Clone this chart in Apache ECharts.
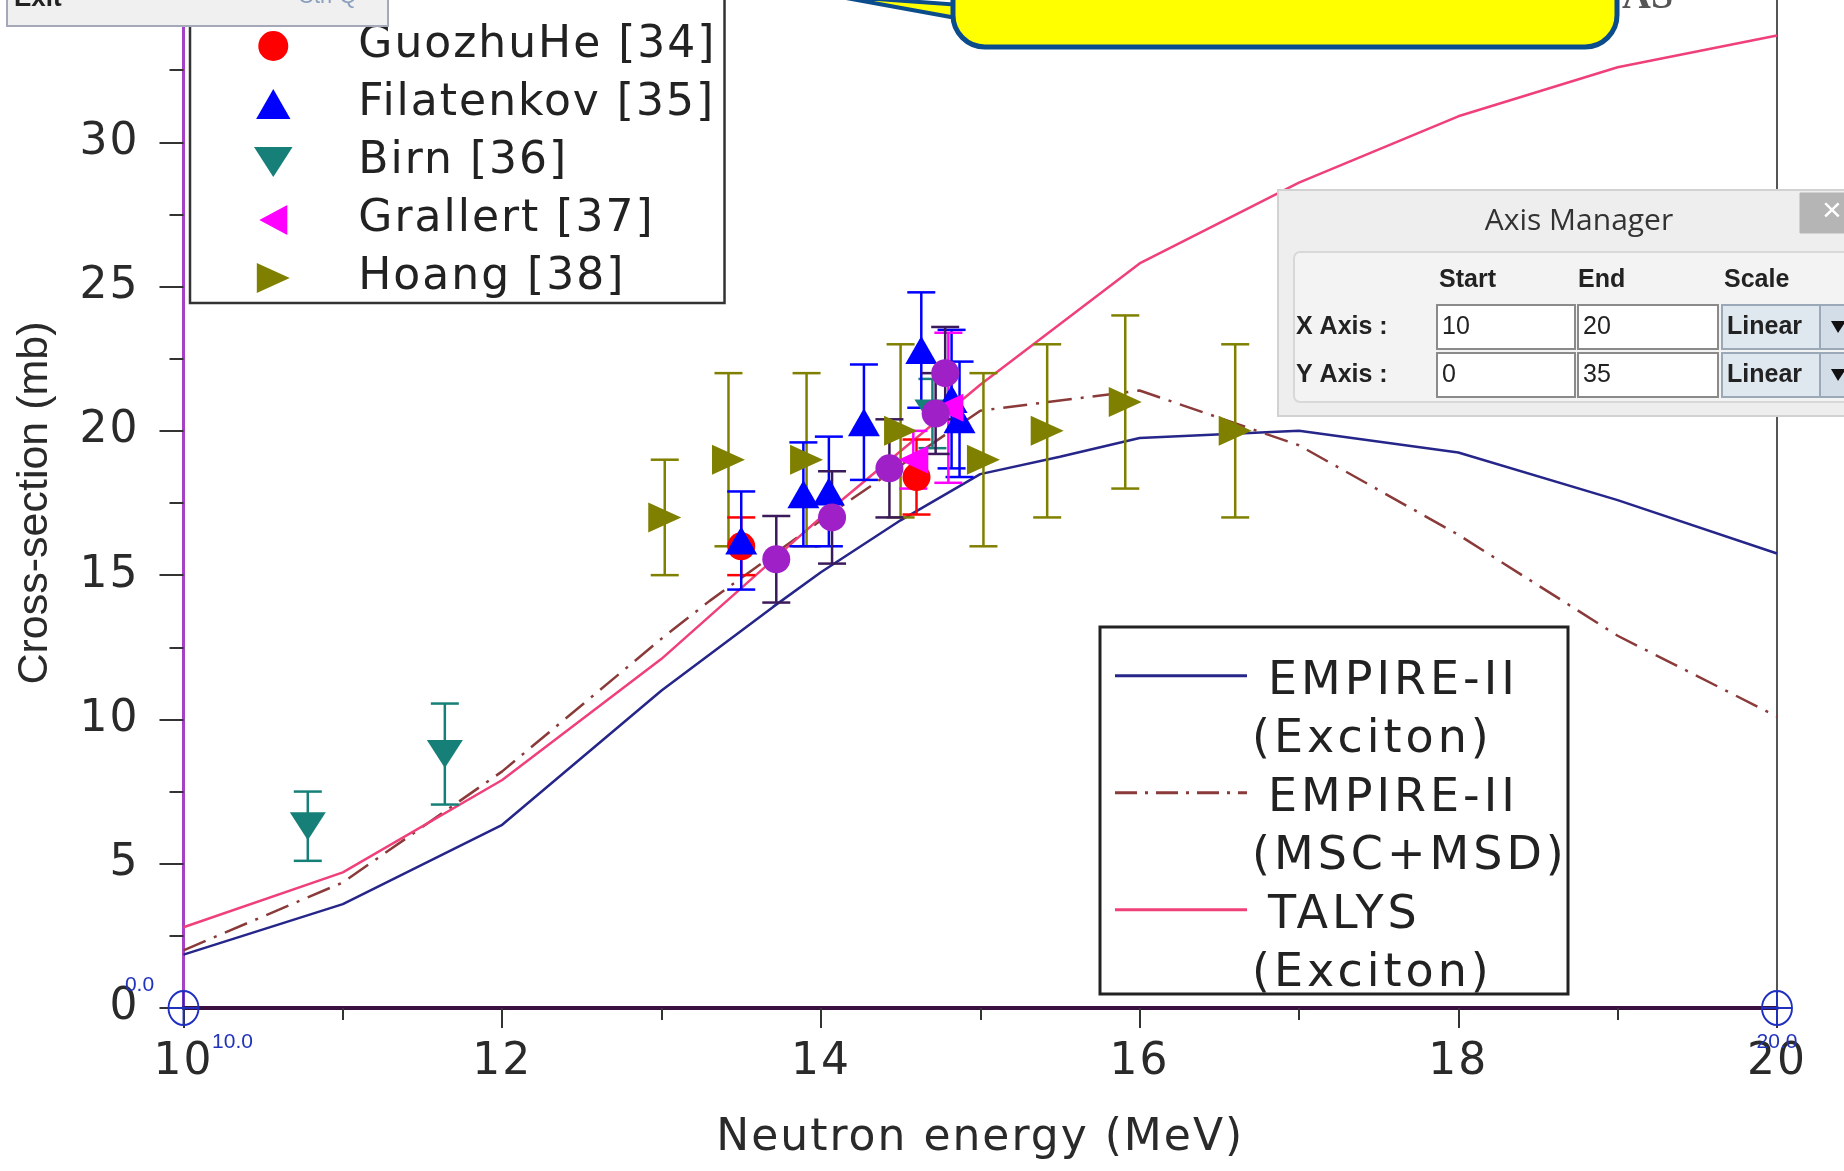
<!DOCTYPE html>
<html><head><meta charset="utf-8">
<script src="https://cdn.jsdelivr.net/npm/echarts@6/dist/echarts.min.js"></script>
<style>html,body{margin:0;padding:0;background:#fff;}#c{width:1844px;height:1171px;}</style>
</head><body><div id="c"></div>
<script>
// ---------- data ----------
const xTickValues = [10, 12, 14, 16, 18, 20];
const yTickValues = [0, 5, 10, 15, 20, 25, 30, 35];

const empExcX = [10, 11, 12, 13, 13.7, 14, 14.5, 15, 15.5, 16, 17, 18, 19, 20];
const empExcY = [1.85, 3.6, 6.35, 11.0, 13.9, 15.1, 16.9, 18.5, 19.1, 19.75, 20.0, 19.25, 17.6, 15.75];
const empMscX = [10, 11, 12, 13, 13.3, 14, 15, 16, 17, 18, 19, 20];
const empMscY = [2.0, 4.35, 8.2, 12.8, 14.1, 16.9, 20.7, 21.4, 19.5, 16.4, 12.9, 10.1];
const talysX = [10, 11, 12, 13, 14, 15, 16, 17, 18, 19, 20];
const talysY = [2.8, 4.7, 7.9, 12.1, 17.0, 21.6, 25.8, 28.6, 30.9, 32.6, 33.7];

const presentX = [13.72, 14.07, 14.43, 14.72, 14.78];
const presentY = [15.55, 17.0, 18.7, 20.6, 22.0];
const presentErr = [1.5, 1.6, 1.7, 1.4, 1.6];

const guozhuX = [13.5, 14.6];
const guozhuY = [16.0, 18.4];
const guozhuErr = [1.0, 1.3];

const filatX = [13.5, 13.89, 14.05, 14.27, 14.63, 14.82, 14.87];
const filatY = [16.2, 17.8, 17.9, 20.3, 22.8, 21.1, 20.4];
const filatErr = [1.7, 1.8, 1.9, 2.0, 2.0, 2.4, 2.0];

const birnX = [10.78, 11.64, 14.7];
const birnY = [6.3, 8.8, 20.6];
const birnErr = [1.2, 1.75, 1.2];

const grallX = [14.58, 14.8];
const grallY = [19.0, 20.8];
const grallErr = [1.0, 2.6];

const hoangX = [13.02, 13.42, 13.91, 14.5, 15.02, 15.42, 15.91, 16.6];
const hoangY = [17.0, 19.0, 19.0, 20.0, 19.0, 20.0, 21.0, 20.0];
const hoangErr = [2.0, 3.0, 3.0, 3.0, 3.0, 3.0, 3.0, 3.0];

const legendTopNames = ['Present work', 'GuozhuHe [34]', 'Filatenkov [35]', 'Birn [36]', 'Grallert [37]', 'Hoang [38]'];
const legendLineNames = ['EMPIRE-II (Exciton)', 'EMPIRE-II (MSC+MSD)', 'TALYS (Exciton)'];

// ---------- tracking (letter spacing) for the widely spaced plot lettering ----------
(function () {
  const proto = CanvasRenderingContext2D.prototype;
  const d = Object.getOwnPropertyDescriptor(proto, 'font');
  if (!d || !('letterSpacing' in proto)) return;
  Object.defineProperty(proto, 'font', {
    configurable: true, enumerable: d.enumerable,
    get: function () { return d.get.call(this); },
    set: function (v) {
      d.set.call(this, v);
      let sp = '0px';
      const m = /(\d+(?:\.\d+)?)px\s+["']?DejaVu Sans["']?\s*$/.exec(String(v));
      if (m) { const s = parseFloat(m[1]); sp = s >= 46 ? '4px' : (s >= 44 ? '2px' : '0px'); }
      this.letterSpacing = sp;
    }
  });
})();

// ---------- helpers ----------
const zip = (xs, ys) => xs.map((x, i) => [x, ys[i]]);
const errData = (xs, ys, es) => xs.map((x, i) => [x, ys[i] - es[i], ys[i] + es[i]]);
function errRender(color, cap) {
  return function (params, api) {
    const x = api.value(0), lo = api.value(1), hi = api.value(2);
    const a = api.coord([x, lo]), b = api.coord([x, hi]);
    const st = { stroke: color, lineWidth: 2.5 };
    return { type: 'group', children: [
      { type: 'line', shape: { x1: a[0], y1: a[1], x2: b[0], y2: b[1] }, style: st },
      { type: 'line', shape: { x1: a[0] - cap, y1: a[1], x2: a[0] + cap, y2: a[1] }, style: st },
      { type: 'line', shape: { x1: b[0] - cap, y1: b[1], x2: b[0] + cap, y2: b[1] }, style: st }
    ]};
  };
}
function errSeries(name, xs, ys, es, color) {
  return { name: name, type: 'custom', renderItem: errRender(color, 14), data: errData(xs, ys, es),
    encode: { x: 0, y: [1, 2] }, z: 3, silent: true };
}
function scatter(name, xs, ys, color, symbol, size, rot) {
  return { name: name, type: 'scatter', data: zip(xs, ys), symbol: symbol, symbolSize: size,
    symbolRotate: rot || 0, itemStyle: { color: color, opacity: 1 }, z: 4 };
}

const FONT = 'DejaVu Sans';
const chart = echarts.init(document.getElementById('c'));

// ---------- overlay (screenshot furniture) ----------
function txt(x, y, text, size, opts) {
  opts = opts || {};
  return { type: 'text', z: opts.z || 102, style: {
    x: x, y: y, text: text, fontSize: size, fontFamily: opts.family || 'Liberation Sans',
    fontWeight: opts.weight || 'normal', fill: opts.color || '#222',
    textAlign: opts.align || 'left', align: opts.align || 'left',
    textVerticalAlign: 'middle', verticalAlign: 'middle' } };
}
function rect(x, y, w, h, fill, stroke, lw, z, r) {
  return { type: 'rect', z: z, shape: { x: x, y: y, width: w, height: h, r: r || 0 },
    style: { fill: fill, stroke: stroke, lineWidth: lw } };
}
const overlay = [
  rect(1100, 627, 468, 367, '#ffffff', '#222', 3, 3),
  rect(7, -12, 381, 38, '#f0f0f0', '#a4a8b8', 2, 100),
  txt(14, -1, 'Exit', 26, { weight: 'bold', color: '#222' }),
  txt(298, -3, 'Ctrl-Q', 22, { color: '#8aa0bc' }),
  txt(1622, -2, 'AS', 40, { family: 'Liberation Serif', weight: 'bold', color: '#555', z: 99 }),
  { type: 'polygon', z: 100, shape: { points: [[835, -4], [962, 5], [962, 19]] },
    style: { fill: '#ffff00', stroke: '#0b4c8c', lineWidth: 4 } },
  rect(953, -40, 664, 87, '#ffff00', '#0b4c8c', 5, 101, 32),
  rect(1278, 190, 600, 226, '#eeeeee', '#d2d2d2', 2, 100),
  txt(1579, 221, 'Axis Manager', 30, { align: 'center', color: '#333', family: 'Open Sans' }),
  rect(1800, 193, 60, 40, '#b5b5b5', '#b5b5b5', 1, 101),
  txt(1832, 212, '×', 34, { align: 'center', color: '#ffffff' }),
  rect(1294, 252, 600, 150, '#f3f3f3', '#d8d8d8', 2, 101, 6),
  txt(1439, 280, 'Start', 25, { weight: 'bold' }),
  txt(1578, 280, 'End', 25, { weight: 'bold' }),
  txt(1724, 280, 'Scale', 25, { weight: 'bold' }),
  txt(1296, 327, 'X Axis :', 25, { weight: 'bold' }),
  txt(1296, 375, 'Y Axis :', 25, { weight: 'bold' }),
  rect(1437, 305, 138, 44, '#ffffff', '#8a8a8a', 2, 102),
  rect(1578, 305, 140, 44, '#ffffff', '#8a8a8a', 2, 102),
  rect(1437, 353, 138, 44, '#ffffff', '#8a8a8a', 2, 102),
  rect(1578, 353, 140, 44, '#ffffff', '#8a8a8a', 2, 102),
  txt(1442, 327, '10', 25, { z: 103 }),
  txt(1583, 327, '20', 25, { z: 103 }),
  txt(1442, 375, '0', 25, { z: 103 }),
  txt(1583, 375, '35', 25, { z: 103 }),
  rect(1722, 305, 98, 44, '#dfe7ef', '#9aa8b8', 2, 102),
  rect(1722, 353, 98, 44, '#dfe7ef', '#9aa8b8', 2, 102),
  rect(1820, 305, 40, 44, '#d3dde8', '#9aa8b8', 2, 102),
  rect(1820, 353, 40, 44, '#d3dde8', '#9aa8b8', 2, 102),
  txt(1727, 327, 'Linear', 25, { weight: 'bold', z: 103 }),
  txt(1727, 375, 'Linear', 25, { weight: 'bold', z: 103 }),
  { type: 'polygon', z: 103, shape: { points: [[1831, 321], [1846, 321], [1838, 333]] }, style: { fill: '#111' } },
  { type: 'polygon', z: 103, shape: { points: [[1831, 369], [1846, 369], [1838, 381]] }, style: { fill: '#111' } }
];

// legend icons (final orientation, aspect kept)
const ICON_UP = 'path://M16,0 L32,28 L0,28 Z';
const ICON_DOWN = 'path://M0,0 L36,0 L18,28 Z';
const ICON_RIGHT = 'path://M0,0 L33,15 L0,30 Z';
const ICON_LEFT = 'path://M28,0 L28,30 L0,15 Z';
const ICON_CIRCLE = 'path://M14,0 A14,14 0 1 1 14,28 A14,14 0 1 1 14,0 Z';
const ICON_SOLID = 'path://M0,0 L132,0 L132,3 L0,3 Z';
const ICON_DASHDOT = 'path://M0,0h22v3h-22z M30,0h3v3h-3z M41,0h22v3h-22z M71,0h3v3h-3z M82,0h22v3h-22z M112,0h3v3h-3z M123,0h9v3h-9z';
const topIcons = [ICON_CIRCLE, ICON_CIRCLE, ICON_UP, ICON_DOWN, ICON_LEFT, ICON_RIGHT];
const lineIcons = [ICON_SOLID, ICON_DASHDOT, ICON_SOLID];

const cursorPath = 'path://M15,0 A15,15 0 1 1 15,30 A15,15 0 1 1 15,0 Z M15,0 L15,30 M0,15 L30,15';
const cursorLabel = { show: true, color: '#2233bb', fontSize: 21, fontFamily: 'Liberation Sans' };

const option = {
  animation: false,
  backgroundColor: '#ffffff',
  grid: { left: 183.5, right: 67, top: -2, bottom: 163, containLabel: false, outerBoundsMode: 'none' },
  xAxis: {
    type: 'value', min: 10, max: 20, interval: 2,
    name: 'Neutron energy (MeV)', nameLocation: 'middle', nameGap: 108,
    nameTextStyle: { fontSize: 44, fontFamily: FONT, color: '#2a2a2a' },
    axisLine: { show: true, onZero: false, lineStyle: { color: '#3a1040', width: 4 } },
    axisTick: { show: true, inside: false, length: 20, lineStyle: { color: '#333', width: 2 } },
    minorTick: { show: true, splitNumber: 2, length: 12, lineStyle: { color: '#333', width: 2 } },
    axisLabel: { margin: 32, fontSize: 44, fontFamily: FONT, color: '#2a2a2a',
      customValues: xTickValues },
    splitLine: { show: false }
  },
  yAxis: [{
    type: 'value', min: 0, max: 35, interval: 5,
    name: 'Cross-section (mb)', nameLocation: 'middle', nameGap: 127, nameRotate: 90,
    nameTextStyle: { fontSize: 43, fontFamily: 'Liberation Sans', color: '#2a2a2a' },
    axisLine: { show: true, lineStyle: { color: '#a640c4', width: 3 } },
    axisTick: { show: true, inside: false, length: 24, lineStyle: { color: '#333', width: 2 } },
    minorTick: { show: true, splitNumber: 2, length: 14, lineStyle: { color: '#333', width: 2 } },
    axisLabel: { margin: 44, fontSize: 44, fontFamily: FONT, color: '#2a2a2a' },
    splitLine: { show: false }
  }, {
    type: 'value', min: 0, max: 35, position: 'right',
    axisLine: { show: true, lineStyle: { color: '#555', width: 2 } },
    axisTick: { show: false }, axisLabel: { show: false }, splitLine: { show: false }
  }],
  legend: [{
    orient: 'vertical', left: 190, top: -46,
    data: legendTopNames.map((n, i) => ({ name: n, icon: topIcons[i] })),
    itemWidth: 160, itemHeight: 30, itemGap: 8,
    symbolKeepAspect: true, symbolRotate: 0,
    padding: [9, 8, 0, 64],
    backgroundColor: '#ffffff', borderColor: '#333', borderWidth: 2.5,
    textStyle: { fontSize: 44, fontFamily: FONT, color: '#222', lineHeight: 50 },
    selectedMode: false, z: 5
  }, {
    orient: 'vertical', left: 1115, top: 582,
    data: legendLineNames.map((n, i) => ({ name: n, icon: lineIcons[i] })),
    itemWidth: 132, itemHeight: 3, itemGap: -70.5,
    symbolKeepAspect: true, symbolRotate: 0,
    padding: 0,
    formatter: n => {
      const p = n.split(' (');
      return '{s| }\n{a|' + p[0] + '}\n{b|(' + p[1] + '}';
    },
    textStyle: { fontSize: 46, fontFamily: FONT, color: '#222', lineHeight: 58.5,
      rich: {
        s: { fontSize: 46, fontFamily: FONT, lineHeight: 70.5 },
        a: { fontSize: 46, fontFamily: FONT, color: '#222', lineHeight: 58.5, padding: [0, 0, 0, 16] },
        b: { fontSize: 46, fontFamily: FONT, color: '#222', lineHeight: 58.5, padding: [0, 0, 0, 0] }
      } },
    selectedMode: false, z: 5
  }],
  graphic: { elements: overlay },
  series: [
    { name: 'EMPIRE-II (Exciton)', type: 'line', data: zip(empExcX, empExcY), symbol: 'none',
      lineStyle: { color: '#26268a', width: 2.5 }, itemStyle: { color: '#26268a' }, z: 2,
      markPoint: {
        symbol: cursorPath, symbolSize: [30, 34], silent: true,
        itemStyle: { color: 'rgba(0,0,0,0)', borderColor: '#1f2fc0', borderWidth: 2 },
        label: { show: false },
        data: [
          { coord: [10, 0] },
          { coord: [20, 0] },
          { coord: [10, 0], symbolSize: 0, label: Object.assign({ formatter: '0.0', offset: [-44, -23] }, cursorLabel) },
          { coord: [10, 0], symbolSize: 0, label: Object.assign({ formatter: '10.0', offset: [49, 34] }, cursorLabel) },
          { coord: [20, 0], symbolSize: 0, label: Object.assign({ formatter: '20.0', offset: [0, 34] }, cursorLabel) }
        ]
      } },
    { name: 'EMPIRE-II (MSC+MSD)', type: 'line', data: zip(empMscX, empMscY), symbol: 'none',
      lineStyle: { color: '#8b3a3a', width: 2.5, type: [24, 9, 3, 9] }, itemStyle: { color: '#8b3a3a' }, z: 2 },
    { name: 'TALYS (Exciton)', type: 'line', data: zip(talysX, talysY), symbol: 'none',
      lineStyle: { color: '#f0407a', width: 2.5 }, itemStyle: { color: '#f0407a' }, z: 2 },

    errSeries('Hoang err', hoangX, hoangY, hoangErr, '#808000'),
    errSeries('Birn err', birnX, birnY, birnErr, '#168078'),
    errSeries('GuozhuHe err', guozhuX, guozhuY, guozhuErr, '#ff0000'),
    errSeries('Filatenkov err', filatX, filatY, filatErr, '#0000ff'),
    errSeries('Grallert err', grallX, grallY, grallErr, '#ff00ff'),
    errSeries('Present err', presentX, presentY, presentErr, '#3a1a5a'),

    scatter('Hoang [38]', hoangX, hoangY, '#808000', 'triangle', [30, 33], -90),
    scatter('Birn [36]', birnX, birnY, '#168078', 'triangle', [36, 28], 180),
    scatter('GuozhuHe [34]', guozhuX, guozhuY, '#ff0000', 'circle', 28, 0),
    scatter('Filatenkov [35]', filatX, filatY, '#0000ff', 'triangle', [32, 28], 0),
    scatter('Grallert [37]', grallX, grallY, '#ff00ff', 'triangle', [28, 30], 90),
    scatter('Present work', presentX, presentY, '#a020c8', 'circle', 28, 0)
  ]
};
chart.setOption(option);
</script>
</body></html>
